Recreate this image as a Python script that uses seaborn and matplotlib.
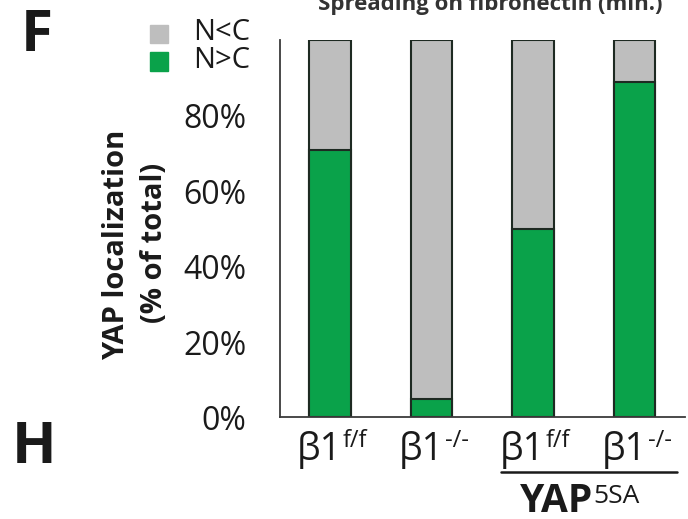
import matplotlib
matplotlib.use('Agg')

import matplotlib.pyplot as plt
import seaborn as sns
import pandas as pd

# data
groups = ['ff', 'ko', 'ff_5sa', 'ko_5sa']
base_labels = ['β1', 'β1', 'β1', 'β1']
sup_labels = ['f/f', '-/-', 'f/f', '-/-']
n_gt_c = [71, 5, 50, 89]        # green, N>C
total = [100, 100, 100, 100]    # gray sits on top up to 100%
yticks = [0, 20, 40, 60, 80, 100]
ytick_labels = ['0%', '20%', '40%', '60%', '80%', '']

df = pd.DataFrame({'group': groups, 'n_gt_c': n_gt_c, 'total': total})

sns.set_style('white')
plt.rcParams['font.family'] = ['Open Sans', 'DejaVu Sans']

gray = '#bebebe'
green = '#0aa24a'
edge = '#1e2a22'
axis_col = '#3a3a3a'

fig = plt.figure(figsize=(6.88, 5.19), dpi=100)
ax = fig.add_axes([0.407, 0.1956, 0.589, 0.7266])

sns.barplot(data=df, x='group', y='total', color=gray, width=0.41,
            edgecolor=edge, linewidth=1.5, saturation=1, ax=ax)
sns.barplot(data=df, x='group', y='n_gt_c', color=green, width=0.41,
            edgecolor=edge, linewidth=1.5, saturation=1, ax=ax)

ax.set_xlim(-0.49, 3.5)
ax.set_ylim(0, 100)
ax.set_yticks(yticks)
ax.set_yticklabels(ytick_labels, fontsize=23, color='#1a1a1a')
ax.set_xticks(range(len(groups)))
ax.set_xticklabels([''] * len(groups))
ax.tick_params(axis='y', direction='in', length=9, width=1, pad=24, color=axis_col)
ax.tick_params(axis='x', length=0)
ax.set_xlabel('')
ax.set_ylabel('')
for s in ['top', 'right']:
    ax.spines[s].set_visible(False)
for s in ['left', 'bottom']:
    ax.spines[s].set_color(axis_col)
    ax.spines[s].set_linewidth(1.3)

# category labels: β1 with a superscript genotype
xt = ax.get_xaxis_transform()
for i, (b, sup) in enumerate(zip(base_labels, sup_labels)):
    ax.text(i + 0.12, -0.113, b, transform=xt, fontsize=27, color='#1a1a1a',
            ha='right', va='baseline')
    ax.text(i + 0.13, -0.078, sup, transform=xt, fontsize=17, color='#1a1a1a',
            ha='left', va='baseline')

# y label, two bold lines
fig.text(0.170, 0.528, 'YAP localization', rotation=90, fontsize=21,
         fontweight='bold', ha='center', va='center', color='#1a1a1a')
fig.text(0.225, 0.532, '(% of total)', rotation=90, fontsize=21,
         fontweight='bold', ha='center', va='center', color='#1a1a1a')

# legend squares
fig.patches.append(plt.Rectangle((0.218, 1 - 43 / 519), 18 / 688, 18 / 519,
                                 color=gray, transform=fig.transFigure, figure=fig))
fig.patches.append(plt.Rectangle((0.218, 1 - 71 / 519), 18 / 688, 19 / 519,
                                 color=green, transform=fig.transFigure, figure=fig))
fig.text(0.281, 1 - 33 / 519, 'N<C', fontsize=21, va='center', color='#1a1a1a')
fig.text(0.281, 1 - 61 / 519, 'N>C', fontsize=21, va='center', color='#1a1a1a')

# panel letters
fig.text(0.030, 1 - 36 / 519, 'F', fontsize=42, fontweight='bold', va='center',
         color='#1a1a1a')
fig.text(0.017, 1 - 448 / 519, 'H', fontsize=42, fontweight='bold', va='center',
         color='#1a1a1a')

# cropped title at the top
fig.text(0.712, 0.980, 'Spreading on fibronectin (min.)', fontsize=16,
         fontweight='bold', color='#333333', ha='center', va='baseline')

# YAP5SA bracket under the last two bars
fig.add_artist(plt.Line2D([0.728, 0.984], [0.0906, 0.0906], color='#1a1a1a', lw=1.8))
fig.text(0.862, 0.014, 'YAP', fontsize=28, fontweight='bold', ha='right',
         va='baseline', color='#1a1a1a')
fig.text(0.862, 0.014 + 27.5 / 519, '5SA', fontsize=19, ha='left', va='top',
         color='#1a1a1a')

fig.savefig('out.png', dpi=100)
